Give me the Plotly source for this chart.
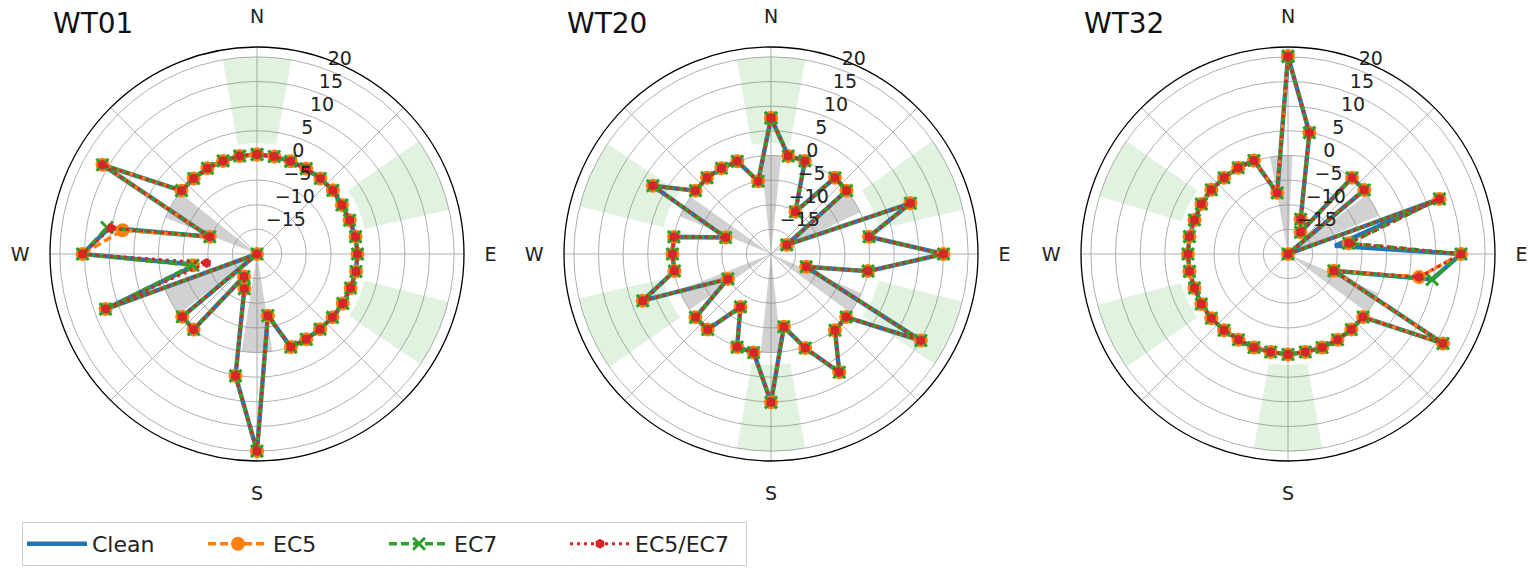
import plotly.graph_objects as go

# ---------------- data ----------------
directions = [0, 10, 20, 30, 40, 50, 60, 70, 80, 90, 100, 110, 120, 130, 140, 150, 160, 170,
              180, 190, 200, 210, 220, 230, 240, 250, 260, 270, 280, 290, 300, 310, 320, 330, 340, 350]

turbines = ["WT01", "WT20", "WT32"]
series_names = ["Clean", "EC5", "EC7", "EC5/EC7"]

wt01_clean = [0.2, 0.1, 0.0, 0.0, 0.0, 0.1, -0.1, 0.0, 0.3, 0.4, 0.4, 0.2, 0.1, 0.0, -0.1, 0.0, 0.1, -7.3,
              20.0, 5.1, -12.5, -14.7, 0.0, -0.2, -20.0, 12.7, -7.5, 15.4, 10.5, -9.8, 16.2, 0.0, 0.0, 0.1, 0.1, 0.2]
wt01_ec5 = [0.2, 0.1, 0.0, 0.0, 0.0, 0.1, -0.1, 0.0, 0.3, 0.4, 0.4, 0.2, 0.1, 0.0, -0.1, 0.0, 0.1, -7.3,
            20.0, 5.1, -12.5, -14.7, 0.0, -0.2, -20.0, 12.7, -6.8, 15.4, 7.7, -9.8, 16.2, 0.0, 0.0, 0.1, 0.1, 0.2]
wt01_ec7 = [0.2, 0.1, 0.0, 0.0, 0.0, 0.1, -0.1, 0.0, 0.3, 0.4, 0.4, 0.2, 0.1, 0.0, -0.1, 0.0, 0.1, -7.3,
            20.0, 5.1, -12.5, -14.7, 0.0, -0.2, -20.0, 12.7, -6.8, 15.4, 10.9, -9.8, 16.2, 0.0, 0.0, 0.1, 0.1, 0.2]
wt01_ec57 = [0.2, 0.1, 0.0, 0.0, 0.0, 0.1, -0.1, 0.0, 0.3, 0.4, 0.4, 0.2, 0.1, 0.0, -0.1, 0.0, 0.1, -7.3,
             20.0, 5.1, -12.5, -14.7, 0.0, -0.2, -20.0, 12.7, -9.6, 15.4, 10.1, -9.8, 16.2, 0.0, 0.0, 0.1, 0.1, 0.2]

wt20_clean = [7.6, 0.2, 0.1, -10.1, 0.2, 0.0, -16.3, 10.1, 0.2, 15.0, 0.0, -12.4, 15.1, -0.1, 0.2, 7.7, 0.3, -5.0,
              10.1, 0.3, 0.1, -7.6, 0.0, 0.0, -9.9, 7.7, -0.1, 0.0, 0.0, -10.2, 7.7, 0.0, 0.2, 0.1, 0.0, -5.0]
wt20_ec5 = [7.6, 0.2, 0.1, -10.1, 0.2, 0.0, -16.3, 10.1, 0.2, 15.0, 0.0, -12.4, 15.1, -0.1, 0.2, 7.7, 0.3, -5.0,
            10.1, 0.3, 0.1, -7.6, 0.0, 0.0, -9.9, 7.7, -0.1, 0.0, 0.0, -10.2, 7.7, 0.0, 0.2, 0.1, 0.0, -5.0]
wt20_ec7 = [7.6, 0.2, 0.1, -10.1, 0.2, 0.0, -16.3, 10.1, 0.2, 15.0, 0.0, -12.4, 15.1, -0.1, 0.2, 7.7, 0.3, -5.0,
            10.1, 0.3, 0.1, -7.6, 0.0, 0.0, -9.9, 7.7, -0.1, 0.0, 0.0, -10.2, 7.7, 0.0, 0.2, 0.1, 0.0, -5.0]
wt20_ec57 = [7.6, 0.2, 0.1, -10.1, 0.2, 0.0, -16.3, 10.1, 0.2, 15.0, 0.0, -12.4, 15.1, -0.1, 0.2, 7.7, 0.3, -5.0,
             10.1, 0.3, 0.1, -7.6, 0.0, 0.0, -9.9, 7.7, -0.1, 0.0, 0.0, -10.2, 7.7, 0.0, 0.2, 0.1, 0.0, -5.0]

wt32_clean = [20.1, 5.0, -12.5, -14.9, 0.2, 0.2, -20.0, 12.7, -10.3, 15.1, 9.7, -10.1, 16.3, -0.1, 0.0, 0.1, 0.2, 0.2,
              0.4, 0.2, 0.2, 0.1, 0.2, 0.3, 0.3, 0.2, 0.3, 0.3, 0.3, 0.2, 0.3, 0.3, 0.2, 0.2, 0.2, -7.4]
wt32_ec5 = [20.1, 5.0, -12.5, -14.9, 0.2, 0.2, -20.0, 12.7, -7.5, 15.1, 7.0, -10.1, 16.3, -0.1, 0.0, 0.1, 0.2, 0.2,
            0.4, 0.2, 0.2, 0.1, 0.2, 0.3, 0.3, 0.2, 0.3, 0.3, 0.3, 0.2, 0.3, 0.3, 0.2, 0.2, 0.2, -7.4]
wt32_ec7 = [20.1, 5.0, -12.5, -14.9, 0.2, 0.2, -20.0, 12.7, -7.5, 15.1, 9.7, -10.1, 16.3, -0.1, 0.0, 0.1, 0.2, 0.2,
            0.4, 0.2, 0.2, 0.1, 0.2, 0.3, 0.3, 0.2, 0.3, 0.3, 0.3, 0.2, 0.3, 0.3, 0.2, 0.2, 0.2, -7.4]
wt32_ec57 = [20.1, 5.0, -12.5, -14.9, 0.2, 0.2, -20.0, 12.7, -7.5, 15.1, 7.0, -10.1, 16.3, -0.1, 0.0, 0.1, 0.2, 0.2,
             0.4, 0.2, 0.2, 0.1, 0.2, 0.3, 0.3, 0.2, 0.3, 0.3, 0.3, 0.2, 0.3, 0.3, 0.2, 0.2, 0.2, -7.4]

# shaded direction sectors (centre, width in degrees)
free_centers = {"WT01": [0, 66, 114], "WT20": [0, 66, 114, 180, 246, 294], "WT32": [180, 245, 296]}
free_widths = {"WT01": [20, 22, 20], "WT20": [20, 22, 20, 20, 22, 20], "WT32": [20, 20, 18]}
free_lo, free_hi = 2.5, 20.0
wake_centers = {"WT01": [180, 241, 300], "WT20": [0, 58, 120, 180, 242, 299], "WT32": [356, 60, 120]}
wake_widths = {"WT01": [18, 17, 17], "WT20": [12, 14, 13, 12, 13, 13], "WT32": [13, 14, 13]}
wake_lo, wake_hi = -20.0, 0.0

r_ticks = [-15, -10, -5, 0, 5, 10, 15, 20]
r_ticktext = ["\u221215", "\u221210", "\u22125", "0", "5", "10", "15", "20"]
r_label_theta = 21
r_range = [-20, 22]
compass_vals = [0, 45, 90, 135, 180, 225, 270, 315]
compass_text = ["N", "", "E", "", "S", "", "W", ""]

data = {
    "WT01": [wt01_clean, wt01_ec5, wt01_ec7, wt01_ec57],
    "WT20": [wt20_clean, wt20_ec5, wt20_ec7, wt20_ec57],
    "WT32": [wt32_clean, wt32_ec5, wt32_ec7, wt32_ec57],
}

# ---------------- styles ----------------
W, H = 1538, 569
FONT = "DejaVu Sans"
styles = [
    dict(line=dict(color="#1f77b4", width=4.5), mode="lines", marker=None),
    dict(line=dict(color="#ff7f0e", width=3.5, dash="8px,4px"), mode="lines+markers",
         marker=dict(symbol="circle", size=14, color="#ff7f0e")),
    dict(line=dict(color="#2ca02c", width=3.5, dash="8px,4px"), mode="lines+markers",
         marker=dict(symbol="x-thin", size=12, color="#2ca02c", line=dict(color="#2ca02c", width=3))),
    dict(line=dict(color="#d62728", width=3, dash="3px,4px"), mode="lines+markers",
         marker=dict(symbol="hexagon", size=10, color="#d62728")),
]

centers_px = [257, 771, 1288]
cy_px = 254
rad_px = 207

fig = go.Figure()
annotations = []
for i, wt in enumerate(turbines):
    pname = "polar" if i == 0 else f"polar{i + 1}"
    # sectors
    fig.add_trace(go.Barpolar(
        theta=free_centers[wt], width=free_widths[wt],
        r=[free_hi - free_lo] * len(free_centers[wt]), base=free_lo,
        marker=dict(color="rgba(44,160,44,0.14)", line=dict(width=0)),
        showlegend=False, hoverinfo="skip", subplot=pname))
    fig.add_trace(go.Barpolar(
        theta=wake_centers[wt], width=wake_widths[wt],
        r=[wake_hi - wake_lo] * len(wake_centers[wt]), base=wake_lo,
        marker=dict(color="rgba(128,128,128,0.36)", line=dict(width=0)),
        showlegend=False, hoverinfo="skip", subplot=pname))
    for s, name in enumerate(series_names):
        vals = data[wt][s]
        st = styles[s]
        kw = dict(line=st["line"], mode=st["mode"])
        if st["marker"] is not None:
            kw["marker"] = st["marker"]
        fig.add_trace(go.Scatterpolar(
            theta=directions + [directions[0]], r=vals + [vals[0]],
            name=name, legendgroup=name, showlegend=(i == 0),
            subplot=pname, **kw))
    # radial tick labels (matplotlib style, along one radial line)
    fig.add_trace(go.Scatterpolar(
        theta=[r_label_theta] * len(r_ticks), r=r_ticks, text=r_ticktext,
        mode="text", textposition="top right", cliponaxis=False,
        textfont=dict(family=FONT, size=19, color="#222222"),
        showlegend=False, hoverinfo="skip", subplot=pname))

    x0 = (centers_px[i] - rad_px) / W
    x1 = (centers_px[i] + rad_px) / W
    y0 = (H - cy_px - rad_px) / H
    y1 = (H - cy_px + rad_px) / H
    fig.update_layout(**{pname: dict(
        domain=dict(x=[x0, x1], y=[y0, y1]),
        bgcolor="white",
        bargap=0,
        angularaxis=dict(rotation=90, direction="clockwise", tickmode="array",
                         tickvals=compass_vals, ticktext=compass_text,
                         showgrid=True, gridcolor="#b0b0b0", gridwidth=1,
                         showline=True, linecolor="black", linewidth=1.3,
                         ticks="outside", ticklen=16, tickcolor="rgba(0,0,0,0)",
                         tickfont=dict(family=FONT, size=19, color="#222222")),
        radialaxis=dict(range=r_range, tickmode="array", tickvals=r_ticks,
                        showgrid=True, gridcolor="#b0b0b0", gridwidth=1,
                        showline=False, ticks="", showticklabels=False, angle=67.5),
    )})
    annotations.append(dict(text=wt, x=(centers_px[i] - 206) / W, y=(H - 23) / H,
                            xref="paper", yref="paper",
                            xanchor="left", yanchor="middle", showarrow=False,
                            font=dict(family=FONT, size=28, color="#111111")))

fig.update_layout(
    width=W, height=H,
    margin=dict(l=0, r=0, t=0, b=0),
    paper_bgcolor="white",
    font=dict(family=FONT, color="#222222"),
    annotations=annotations,
    legend=dict(orientation="h", x=22 / W, y=3 / H, xanchor="left", yanchor="bottom",
                bordercolor="#cccccc", borderwidth=1, bgcolor="white",
                font=dict(family=FONT, size=22, color="#222222"),
                entrywidth=106, entrywidthmode="pixels", itemwidth=60),
)

fig.write_html("out.html", config={"displayModeBar": False},
               post_script="document.body.style.margin='0';")
